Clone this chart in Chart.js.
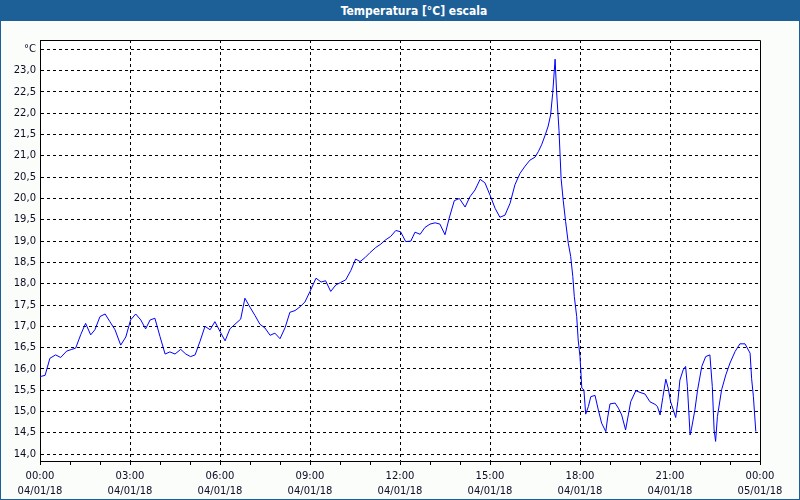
<!DOCTYPE html>
<html>
<head>
<meta charset="utf-8">
<script src="https://cdn.jsdelivr.net/npm/chart.js@4"></script>
<style>
  html, body { margin: 0; padding: 0; background: #fbfdfb; }
  #wrap { position: relative; width: 800px; height: 500px; overflow: hidden; background: #fbfdfb; }
  #title { position: absolute; left: 0; top: 0; width: 800px; height: 21px; background: #1d5f97;
           color: #ffffff; font: bold 12px "DejaVu Sans Condensed", "Liberation Sans", sans-serif;
           line-height: 22px; text-align: center; box-sizing: border-box; padding-left: 28px; }
  #frame { position: absolute; left: 0; top: 0; width: 800px; height: 500px; box-sizing: border-box;
           border: 1px solid #1d5f97; pointer-events: none; }
  canvas { position: absolute; left: 0; top: 0; }
</style>
</head>
<body>
<div id="wrap">
  <canvas id="c" width="800" height="500"></canvas>
  <div id="title">Temperatura [°C] escala</div>
  <div id="frame"></div>
</div>
<script>
// time of day in hours (04/01/18 00:00 = 0)
const hours = [
  0.0, 0.17, 0.33, 0.52, 0.69, 0.89, 1.06, 1.19, 1.36, 1.52, 1.69, 1.83, 2.0, 2.17, 2.33, 2.5, 2.69, 2.86,
  3.02, 3.19, 3.36, 3.52, 3.67, 3.83, 4.0, 4.17, 4.33, 4.5, 4.69, 4.86, 5.02, 5.17, 5.33, 5.5, 5.67, 5.83,
  6.0, 6.17, 6.33, 6.5, 6.69, 6.83, 7.0, 7.17, 7.33, 7.5, 7.67, 7.83, 8.0, 8.17, 8.33, 8.5, 8.67, 8.83,
  9.0, 9.2, 9.37, 9.52, 9.69, 9.86, 10.02, 10.19, 10.36, 10.52, 10.67, 10.83, 11.0, 11.19, 11.36, 11.52, 11.69, 11.86,
  12.02, 12.19, 12.36, 12.5, 12.67, 12.83, 13.0, 13.17, 13.33, 13.5, 13.64, 13.81, 13.98, 14.17, 14.33, 14.5, 14.67, 14.83,
  15.0, 15.17, 15.33, 15.5, 15.67, 15.83, 16.0, 16.17, 16.33, 16.5, 16.61, 16.72, 16.83, 16.94, 17.02, 17.09, 17.17, 17.22,
  17.3, 17.37, 17.44, 17.52, 17.61, 17.69, 17.76, 17.81, 17.89, 17.94, 18.0, 18.06, 18.13, 18.19, 18.28, 18.36, 18.5, 18.61,
  18.72, 18.86, 18.92, 19.0, 19.17, 19.28, 19.39, 19.52, 19.61, 19.69, 19.86, 20.0, 20.17, 20.33, 20.5, 20.58, 20.67, 20.76,
  20.86, 20.94, 21.02, 21.11, 21.19, 21.26, 21.33, 21.44, 21.52, 21.58, 21.67, 21.72, 21.83, 21.92, 22.06, 22.19, 22.33, 22.41,
  22.47, 22.52, 22.58, 22.72, 22.86, 23.0, 23.17, 23.33, 23.5, 23.67, 23.72, 23.78, 23.86
];
// temperature in °C
const temps = [
  15.82, 15.85, 16.25, 16.33, 16.27, 16.42, 16.46, 16.49, 16.81, 17.07, 16.80, 16.92, 17.23, 17.29, 17.11, 16.92, 16.56, 16.75,
  17.15, 17.29, 17.15, 16.94, 17.15, 17.19, 16.76, 16.35, 16.40, 16.35, 16.46, 16.35, 16.29, 16.33, 16.64, 17.00, 16.92, 17.11,
  16.88, 16.66, 16.94, 17.05, 17.17, 17.66, 17.45, 17.25, 17.05, 16.96, 16.79, 16.84, 16.71, 16.97, 17.33, 17.37, 17.46, 17.57,
  17.82, 18.13, 18.04, 18.07, 17.82, 17.97, 18.03, 18.09, 18.31, 18.58, 18.52, 18.61, 18.73, 18.85, 18.93, 19.03, 19.11, 19.25,
  19.22, 18.99, 19.00, 19.21, 19.16, 19.32, 19.40, 19.43, 19.40, 19.15, 19.54, 19.95, 20.00, 19.80, 20.04, 20.20, 20.45, 20.37,
  20.08, 19.77, 19.56, 19.61, 19.89, 20.32, 20.59, 20.76, 20.90, 20.97, 21.10, 21.26, 21.47, 21.70, 21.96, 22.47, 23.27, 22.50,
  21.60, 20.47, 19.96, 19.46, 18.95, 18.64, 18.17, 17.70, 17.23, 16.68, 16.29, 15.55, 15.51, 14.94, 15.12, 15.35, 15.38, 15.04,
  14.73, 14.53, 14.85, 15.18, 15.20, 15.08, 14.92, 14.57, 14.92, 15.23, 15.49, 15.45, 15.41, 15.23, 15.17, 15.12, 14.92, 15.33,
  15.76, 15.55, 15.23, 15.04, 14.86, 15.23, 15.74, 15.98, 16.06, 15.59, 14.45, 14.61, 15.04, 15.51, 16.06, 16.29, 16.33, 15.59,
  14.57, 14.30, 14.88, 15.51, 15.86, 16.14, 16.41, 16.59, 16.59, 16.37, 15.78, 15.35, 14.53
];
const yTicks = [14.0, 14.5, 15.0, 15.5, 16.0, 16.5, 17.0, 17.5, 18.0, 18.5, 19.0, 19.5, 20.0, 20.5, 21.0, 21.5, 22.0, 22.5, 23.0, 23.5];
const xTickHours = [0, 3, 6, 9, 12, 15, 18, 21, 24];
const xTickTimes = ['00:00', '03:00', '06:00', '09:00', '12:00', '15:00', '18:00', '21:00', '00:00'];
const xTickDates = ['04/01/18', '04/01/18', '04/01/18', '04/01/18', '04/01/18', '04/01/18', '04/01/18', '04/01/18', '05/01/18'];
const unitLabel = '°C';

const points = hours.map((h, i) => ({ x: h, y: temps[i] }));
const FONT = { family: '"DejaVu Sans", Verdana, sans-serif', size: 10 };
const LABEL_COLOR = '#0c0c24';

const frameBox = {
  id: 'frameBox',
  beforeDraw(chart) {
    const { ctx, chartArea: a } = chart;
    ctx.save();
    ctx.fillStyle = '#ffffff';
    ctx.fillRect(a.left, a.top, a.right - a.left, a.bottom - a.top);
    ctx.restore();
  },
  afterDatasetsDraw(chart) {
    const { ctx, chartArea: a } = chart;
    ctx.save();
    ctx.strokeStyle = '#000000';
    ctx.lineWidth = 1;
    ctx.beginPath();
    ctx.moveTo(Math.round(a.left) + 0.5, Math.round(a.top) + 0.5);
    ctx.lineTo(Math.round(a.right) + 0.5, Math.round(a.top) + 0.5);
    ctx.lineTo(Math.round(a.right) + 0.5, Math.round(a.bottom) + 0.5);
    ctx.stroke();
    ctx.restore();
  }
};

new Chart(document.getElementById('c'), {
  type: 'line',
  data: {
    datasets: [{
      data: points,
      borderColor: '#0000ff',
      borderWidth: 1,
      pointRadius: 0,
      tension: 0,
      fill: false
    }]
  },
  options: {
    responsive: false,
    animation: false,
    layout: { padding: { top: 40, right: 40, left: 0, bottom: 0 } },
    plugins: { legend: { display: false }, tooltip: { enabled: false }, title: { display: false } },
    scales: {
      x: {
        type: 'linear',
        min: 0,
        max: 24,
        afterFit(s) { s.height = 39; },
        afterBuildTicks(s) {
          const t = [];
          for (let h = 0; h <= 24; h++) t.push({ value: h });
          s.ticks = t;
        },
        ticks: {
          autoSkip: false,
          maxRotation: 0,
          minRotation: 0,
          padding: 4,
          color: LABEL_COLOR,
          font: { ...FONT, lineHeight: '15px' },
          callback(v) {
            const i = xTickHours.indexOf(v);
            return i < 0 ? '' : [xTickTimes[i], xTickDates[i]];
          }
        },
        grid: {
          color: (c) => (c.tick && xTickHours.includes(c.tick.value) && c.tick.value !== 0 && c.tick.value !== 24) ? '#000000' : 'rgba(0,0,0,0)',
          tickColor: '#000000',
          tickLength: 4,
          drawTicks: true,
          lineWidth: 1
        },
        border: { display: true, color: '#000000', width: 1, dash: [3, 3] }
      },
      y: {
        type: 'linear',
        min: 13.84,
        max: 23.72,
        afterFit(s) { s.width = 40; },
        afterBuildTicks(s) { s.ticks = yTicks.map(v => ({ value: v })); },
        ticks: {
          padding: 4,
          color: LABEL_COLOR,
          font: FONT,
          callback(v) { return v === 23.5 ? unitLabel : v.toFixed(1).replace('.', ','); }
        },
        grid: {
          color: '#000000',
          drawTicks: false,
          lineWidth: 1
        },
        border: { display: true, color: '#000000', width: 1, dash: [3, 3] }
      }
    }
  },
  plugins: [frameBox]
});
</script>
</body>
</html>
